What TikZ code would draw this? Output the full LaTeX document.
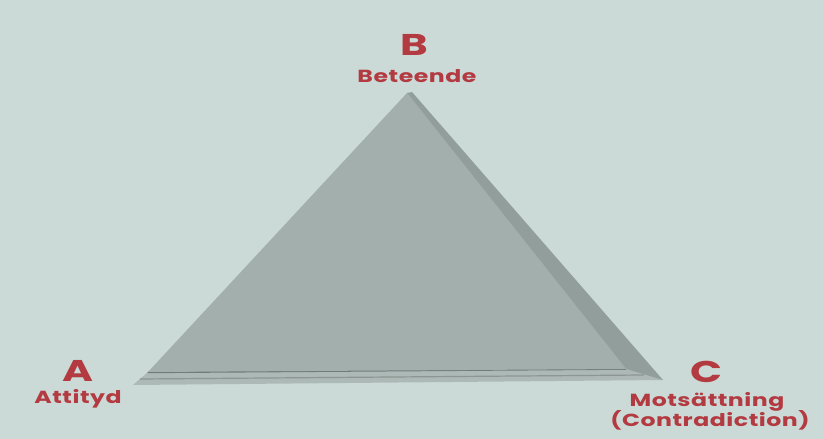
\documentclass[tikz,border=0pt]{standalone}
\usepackage{fontspec}
\usetikzlibrary{calc}
\newfontfamily\labfont{Poppins}[FakeStretch=1.35, LetterSpace=3]
\newfontfamily\bigfont{Poppins}[FakeStretch=1.4]
\definecolor{bg}{HTML}{CBDAD7}
\definecolor{face}{HTML}{A3AFAC}
\definecolor{rbev}{HTML}{919E9B}
\definecolor{bbev}{HTML}{ADB9B6}
\definecolor{edge}{HTML}{6F7C79}
\definecolor{lab}{HTML}{B23A40}
\tikzset{
  big/.style={text=lab, font=\bigfont\bfseries\fontsize{30}{30}\selectfont, inner sep=0pt, anchor=base},
  small/.style={text=lab, font=\labfont\bfseries\fontsize{17.5}{21}\selectfont, inner sep=0pt, anchor=base},
}
\begin{document}
\begin{tikzpicture}[x=1pt,y=-1pt]
\fill[bg] (0,0) rectangle (823,439);
\useasboundingbox (0,0) rectangle (823,439);
% geometry
\coordinate (Ao) at (133,385);
\coordinate (Bo) at (412,92);
\coordinate (Co) at (663,380);
\coordinate (Ai) at (148,372);
\coordinate (Bi) at (407,93);
\coordinate (Ci) at (626,369);
% bottom bevel
\fill[bbev] (Ao) -- (Ai) -- (Ci) -- (Co) -- cycle;
\draw[edge, line width=1.6pt] ($(Ai)!0.03!(Ao)$) -- (Ci);
\draw[edge!80, line width=1.2pt] (140,379) -- (644,375);
% right bevel
\fill[rbev] (Bi) -- (Bo) -- (Co) -- (Ci) -- cycle;
\draw[edge!70, line width=1pt] (Bi) -- (Ci);
% face
\fill[face] (Ai) -- (Bi) -- (Ci) -- cycle;
% labels
\node[big] (b) at (414,56) {B};
\node[small] (bl) at (417,82) {Beteende};
\node[big] (a) at (78,381) {A};
\node[small] (al) at (78,403) {Attityd};
\node[big] (c) at (706,382) {C};
\node[small] (cl1) at (707,406) {Motsättning};
\node[small] (cl2) at (710,426) {(Contradiction)};
\end{tikzpicture}
\end{document}
